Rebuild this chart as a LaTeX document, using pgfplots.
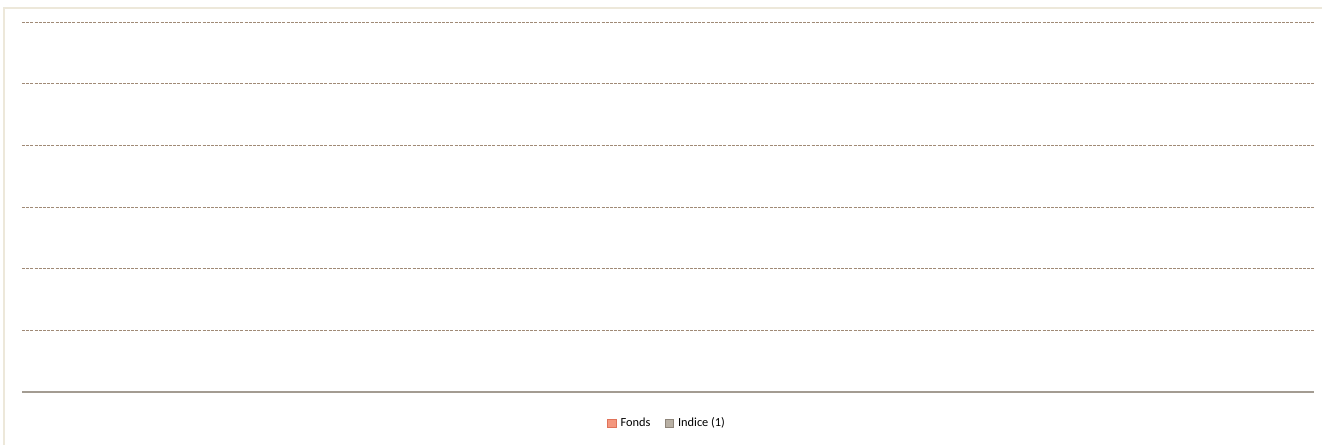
\documentclass[border=0pt]{standalone}
\usepackage{pgfplots}
\pgfplotsset{compat=1.18}
\usepackage{fontspec}
\setmainfont{Carlito}
\definecolor{fondsc}{HTML}{F4977E}
\definecolor{fondsd}{HTML}{E0735A}
\definecolor{indc}{HTML}{B8B0A4}
\definecolor{indd}{HTML}{8E857A}
\definecolor{gridc}{HTML}{A08A76}
\definecolor{axc}{HTML}{A39C92}
\definecolor{framec}{HTML}{EDE8DA}
\begin{document}
\begin{tikzpicture}[x=1bp,y=1bp]
\useasboundingbox (0,0) rectangle (661,222.5);
\draw[framec,line width=0.6bp] (2,0) -- (2,218.5) -- (661,218.5);
\begin{axis}[
  at={(11bp,26.5bp)}, anchor=origin,
  scale only axis, width=646bp, height=185bp,
  xmin=0, xmax=10, ymin=0, ymax=6,
  ytick={1,2,3,4,5,6}, xtick=\empty, yticklabels={},
  axis x line*=bottom, axis y line*=left,
  x axis line style={axc, line width=1bp, -},
  y axis line style={draw=none},
  ymajorgrids, major grid style={gridc, line width=0.5bp, dash pattern=on 1.5bp off 0.6bp},
  major tick length=0pt,
  legend style={at={(0.5,-0.085)}, anchor=center, draw=none, fill=none,
    font=\fontsize{6.2}{7}\selectfont, legend columns=2,
    /tikz/every even column/.append style={column sep=5bp}},
  legend image code/.code={\draw[#1] (0bp,-2.2bp) rectangle (4.4bp,2.2bp);},
]
\addlegendimage{fill=fondsc, draw=fondsd, line width=0.4bp}
\addlegendentry{Fonds}
\addlegendimage{fill=indc, draw=indd, line width=0.4bp}
\addlegendentry{Indice (1)}
\end{axis}
\end{tikzpicture}
\end{document}
